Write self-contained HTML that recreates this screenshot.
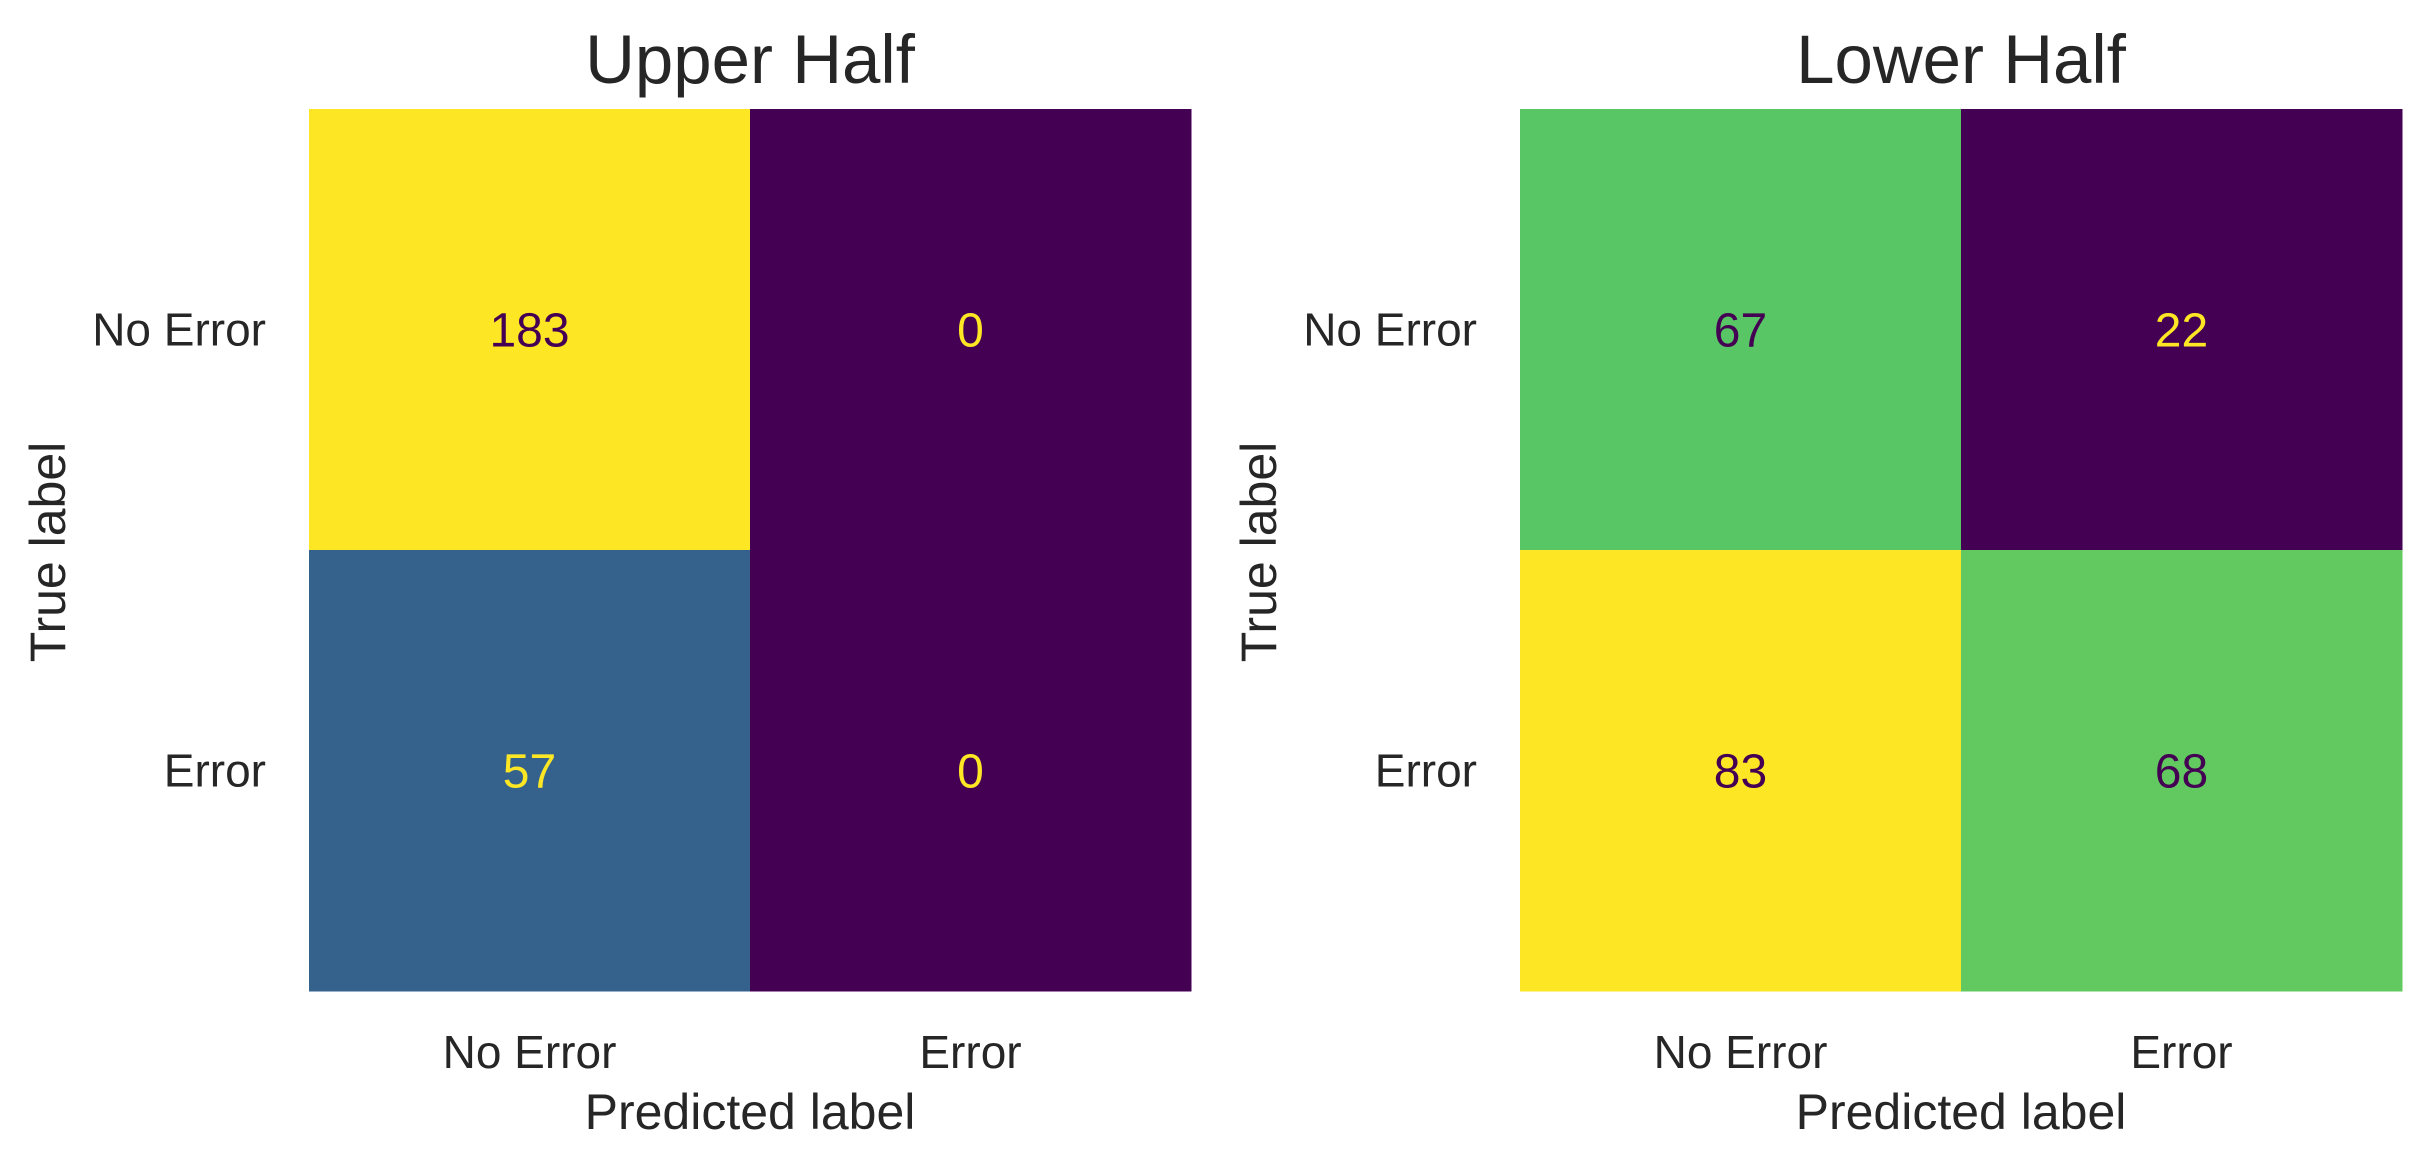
<!DOCTYPE html>
<html><head><meta charset="utf-8"><style>
html,body{margin:0;padding:0;background:#fff;}
svg{display:block;font-family:"Liberation Sans",Arial,sans-serif;}
</style></head><body>
<svg id="chart" width="2434" height="1169" viewBox="0 0 2434 1169"></svg>
<script>
const classLabels = ["No Error", "Error"];
const panelTitles = ["Upper Half", "Lower Half"];
const upperValues = [[183, 0], [57, 0]];
const lowerValues = [[67, 22], [83, 68]];

const viridis = ["#440154","#482475","#414487","#355f8d","#2a788e","#21918c","#22a884","#44bf70","#7ad151","#bddf26","#fde725"];
function hex2rgb(h){return [1,3,5].map(i=>parseInt(h.substr(i,2),16));}
function cmap(t){
  t=Math.max(0,Math.min(1,t));
  const p=t*(viridis.length-1), i=Math.min(Math.floor(p),viridis.length-2), f=p-i;
  const a=hex2rgb(viridis[i]), b=hex2rgb(viridis[i+1]);
  return "rgb("+a.map((v,k)=>Math.round(v+(b[k]-v)*f)).join(",")+")";
}
const NS="http://www.w3.org/2000/svg";
const svg=document.getElementById("chart");
function el(tag,attrs,parent){const e=document.createElementNS(NS,tag);for(const k in attrs)e.setAttribute(k,attrs[k]);(parent||svg).appendChild(e);return e;}

const panels=[{x0:309,values:upperValues,title:panelTitles[0],name:"upper-half"},{x0:1520,values:lowerValues,title:panelTitles[1],name:"lower-half"}];
const y0=109, size=882;
panels.forEach(p=>{
  const g=el("g",{});
  
  
  const n=classLabels.length, cell=size/n;
  const flat=p.values.flat(), mn=Math.min(...flat), mx=Math.max(...flat);
  const xs=i=>p.x0+i*cell, ys=i=>y0+i*cell;
  p.values.forEach((row,r)=>row.forEach((v,c)=>{
    const t=(v-mn)/(mx-mn||1);
    const rect=el("rect",{x:xs(c),y:ys(r),width:cell+0.5,height:cell+0.5,fill:cmap(t)},g);
    
    
    const tx=el("text",{x:xs(c)+cell/2,y:ys(r)+cell/2+17,"text-anchor":"middle","font-size":48,fill:t<0.5?"#fde725":"#440154"},g);
    tx.textContent=v;
    
    
  }));
  const title=el("text",{x:p.x0+size/2,y:83,"text-anchor":"middle","font-size":69,fill:"#262626"},g);
  title.textContent=p.title;
  
  
  classLabels.forEach((lab,i)=>{
    const yt=el("text",{x:p.x0-43,y:ys(i)+cell/2+16,"text-anchor":"end","font-size":46,fill:"#262626"},g);
    yt.textContent=lab;
    
    
    const xt=el("text",{x:xs(i)+cell/2,y:1068,"text-anchor":"middle","font-size":46,fill:"#262626"},g);
    xt.textContent=lab;
    
    
  });
  const xl=el("text",{x:p.x0+size/2,y:1129,"text-anchor":"middle","font-size":50,fill:"#262626"},g);
  xl.textContent="Predicted label";
  
  
  const lx=p.x0-244, ly=552;
  const yl=el("text",{x:lx,y:ly,"text-anchor":"middle","font-size":50,fill:"#262626",transform:"rotate(-90 "+lx+" "+ly+")"},g);
  yl.textContent="True label";
  
  
});
</script>
</body></html>
